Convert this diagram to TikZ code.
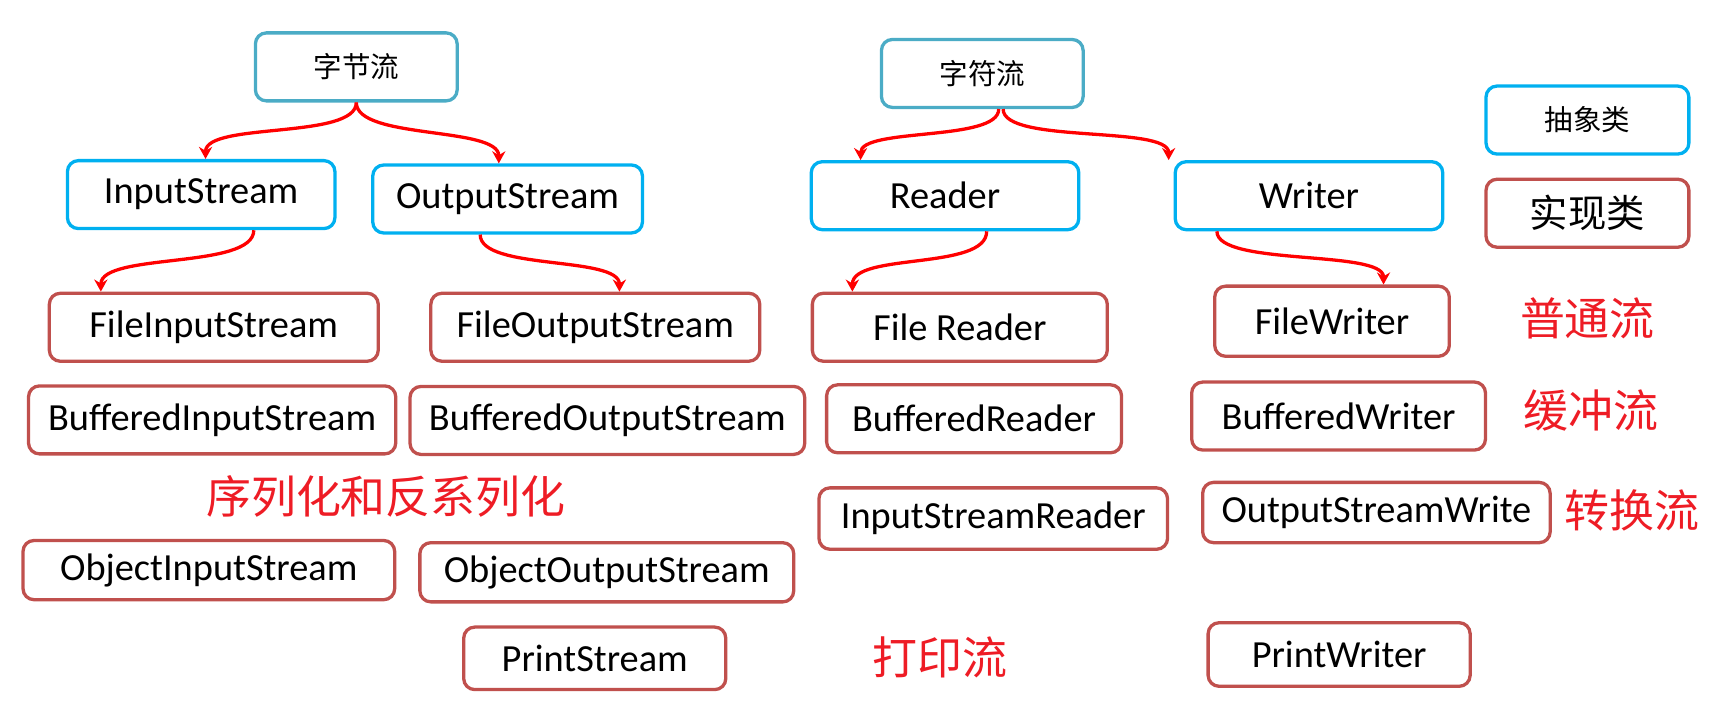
\documentclass[tikz,border=0pt]{standalone}
\usepackage{fontspec}
\setmainfont{Carlito}
\newfontfamily\cjk{Noto Sans CJK SC}
\usetikzlibrary{arrows.meta}
\definecolor{abstblue}{HTML}{00B0F0}
\definecolor{rootteal}{HTML}{4BACC6}
\definecolor{implred}{HTML}{C0504D}
\definecolor{tagred}{HTML}{EE1C25}

\begin{document}
\begin{tikzpicture}[x=0.5pt, y=-0.5pt,
    every node/.style={font=\fontsize{17.5}{20}\selectfont},
    box/.style={draw, rounded corners=5pt, line width=1.5pt, fill=white,
                inner sep=0pt, minimum height=31pt},
    root/.style={box, draw=rootteal, font=\cjk\fontsize{13}{15}\selectfont},
    abst/.style={box, draw=abstblue},
    impl/.style={box, draw=implred},
    tag/.style={text=tagred, font=\cjk\fontsize{20.5}{24}\selectfont},
    arr/.style={-{Stealth[length=5.5pt,width=6pt]}, red, line width=1.5pt}
  ]
  \useasboundingbox (0,0) rectangle (1568,649);

  % byte streams
  \node[root, minimum width=92pt]  (byte) at (325,61)    {字节流};
  \node[abst, minimum width=122pt] (in)   at (183.5,177.5) {InputStream};
  \node[abst, minimum width=123pt] (out)  at (463,181.5) {OutputStream};
  \node[impl, minimum width=150pt] (fin)  at (195,298.5) {FileInputStream};
  \node[impl, minimum width=150pt] (fout) at (543,298.5) {FileOutputStream};
  \node[impl, minimum width=167.5pt] (bin)  at (193.5,383) {BufferedInputStream};
  \node[impl, minimum width=180pt]   (bout) at (554,383.5) {BufferedOutputStream};
  \node[impl, minimum width=169.5pt, minimum height=27pt] (oin)  at (190.5,520) {ObjectInputStream};
  \node[impl, minimum width=170.5pt, minimum height=27pt] (oout) at (553.5,522) {ObjectOutputStream};
  \node[impl, minimum width=119.5pt, minimum height=28.5pt] (ps) at (542.5,600.5) {PrintStream};

  % char streams
  \node[root, minimum width=92pt]  (char) at (896,67)    {字符流};
  \node[abst, minimum width=122pt] (rd)   at (862,178.5) {Reader};
  \node[abst, minimum width=122pt] (wr)   at (1194,178.5) {Writer};
  \node[impl, minimum width=134.5pt] (frd) at (875.5,298.5) {File Reader};
  \node[impl, minimum width=107pt, minimum height=32pt] (fwr) at (1215,293) {FileWriter};
  \node[impl, minimum width=134.5pt] (brd) at (888.5,382) {BufferedReader};
  \node[impl, minimum width=134pt]   (bwr) at (1221,379.5) {BufferedWriter};
  \node[impl, minimum width=159pt, minimum height=28pt] (isr) at (906,473) {InputStreamReader};
  \node[impl, minimum width=158.5pt, minimum height=27.5pt] (osw) at (1255.5,467.5) {OutputStreamWrite};
  \node[impl, minimum width=119.5pt, minimum height=29pt] (pw) at (1221.5,597) {PrintWriter};

  % legend
  \node[abst, minimum width=92.5pt, font=\cjk\fontsize{13}{15}\selectfont] (labs) at (1448,109.5) {抽象类};
  \node[impl, minimum width=92.5pt, font=\cjk\fontsize{17.5}{20}\selectfont] (limp) at (1448,194.5) {实现类};

  % red tags
  \node[tag] (tnorm)  at (1448,290) {普通流};
  \node[tag] (tbuf)   at (1451,374) {缓冲流};
  \node[tag] (tconv)  at (1489,466) {转换流};
  \node[tag] (tser)   at (352,453)  {序列化和反系列化};
  \node[tag] (tprint) at (857,600)  {打印流};

  % arrows
  \draw[arr] (byte.south) .. controls +(0,34) and +(0,-34) .. ([xshift=2pt]in.north);
  \draw[arr] (byte.south) .. controls +(0,34) and +(0,-34) .. ([xshift=-4pt]out.north);
  \draw[arr] ([xshift=24pt]in.south) .. controls +(0,36) and +(0,-36) .. ([xshift=-51.5pt]fin.north);
  \draw[arr] ([xshift=-12.5pt]out.south) .. controls +(0,33) and +(0,-33) .. ([xshift=11pt]fout.north);
  \draw[arr] ([xshift=7.5pt]char.south) .. controls +(0,30) and +(0,-30) .. ([xshift=-38.5pt]rd.north);
  \draw[arr] ([xshift=9.5pt]char.south) .. controls +(0,32) and +(0,-32) .. ([xshift=-64pt]wr.north);
  \draw[arr] ([xshift=19pt]rd.south) .. controls +(0,36) and +(0,-36) .. ([xshift=-49pt]frd.north);
  \draw[arr] ([xshift=-42pt]wr.south) .. controls +(0,32) and +(0,-32) .. ([xshift=23.5pt]fwr.north);
\end{tikzpicture}
\end{document}
